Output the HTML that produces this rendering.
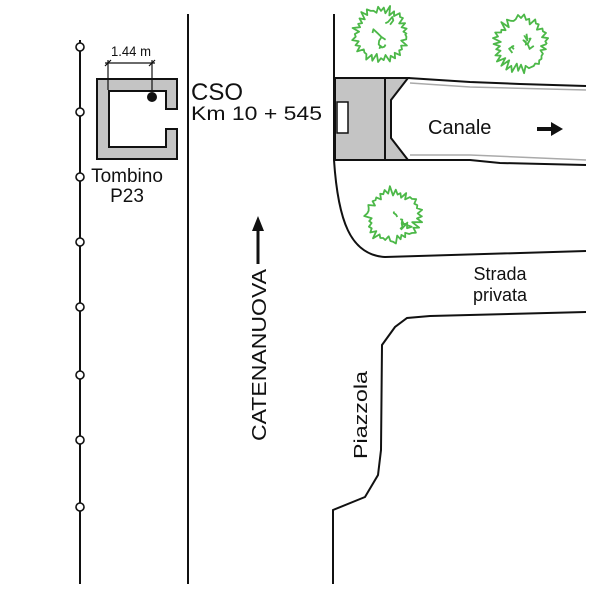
<!DOCTYPE html>
<html><head><style>body{margin:0;background:#fff}svg{display:block}text{font-family:"Liberation Sans",sans-serif;fill:#111}</style></head><body>
<svg id="s" width="600" height="600" viewBox="0 0 600 600">
<g stroke="#111" stroke-width="2" fill="none">
<line x1="80" y1="40" x2="80" y2="584"/>
<line x1="188" y1="14" x2="188" y2="584"/>
<path d="M334 14 L334 160 C338 220 350 255 385 257 L586 251"/>
<path d="M333 584 L333 510 L365 497 L378 475 L381 450 L382 345 L395 327 L407 318 L430 316 L586 312"/>
</g>
<g fill="#fff" stroke="#111" stroke-width="1.6">
<circle cx="80" cy="47" r="4"/><circle cx="80" cy="112" r="4"/><circle cx="80" cy="177" r="4"/><circle cx="80" cy="242" r="4"/><circle cx="80" cy="307" r="4"/><circle cx="80" cy="375" r="4"/><circle cx="80" cy="440" r="4"/><circle cx="80" cy="507" r="4"/>
</g>
<path d="M97 79 H177 V109 H166 V91 H109 V147 H166 V129 H177 V159 H97 Z" fill="#c4c4c4" stroke="#111" stroke-width="2"/>
<circle cx="152" cy="97" r="5" fill="#111"/>
<g stroke="#111" stroke-width="1.2">
<line x1="108" y1="60" x2="108" y2="90"/><line x1="152" y1="60" x2="152" y2="92"/>
<line x1="105" y1="63" x2="155" y2="63"/>
<line x1="105" y1="66" x2="111" y2="60"/><line x1="149" y1="66" x2="155" y2="60"/>
</g>
<text x="111" y="56" font-size="14" textLength="40" lengthAdjust="spacingAndGlyphs">1.44 m</text>
<text x="191" y="100" font-size="24">CSO</text>
<text x="191" y="120" font-size="19" textLength="131" lengthAdjust="spacingAndGlyphs">Km 10 + 545</text>
<text x="127" y="182" font-size="19" text-anchor="middle">Tombino</text>
<text x="127" y="202" font-size="19" text-anchor="middle">P23</text>
<rect x="335" y="78" width="50" height="82" fill="#c4c4c4" stroke="#111" stroke-width="2"/>
<rect x="337" y="102" width="11" height="31" fill="#fff" stroke="#111" stroke-width="1.5"/>
<path d="M385 78 L408 78 L391 100 L391 138 L408 160 L385 160 Z" fill="#c4c4c4" stroke="#111" stroke-width="2"/>
<path d="M408 78 L470 82 L520 84 L586 86" stroke="#111" stroke-width="2" fill="none"/>
<path d="M410 83 L470 87 L586 90" stroke="#aaa" stroke-width="1.5" fill="none"/>
<path d="M408 160 L470 160 L500 163 L586 165" stroke="#111" stroke-width="2" fill="none"/>
<path d="M410 155 L470 155 L586 160" stroke="#aaa" stroke-width="1.5" fill="none"/>
<text x="428" y="134" font-size="20">Canale</text>
<path d="M537 127 H551 V122 L563 129 L551 136 V131 H537 Z" fill="#111"/>
<text x="500" y="280" font-size="18" text-anchor="middle">Strada</text>
<text x="500" y="301" font-size="18" text-anchor="middle">privata</text>
<g id="trees" fill="none" stroke="#4cb848" stroke-width="1.8" stroke-linejoin="round"></g>
<text transform="translate(266 441) rotate(-90)" font-size="20" textLength="172" lengthAdjust="spacingAndGlyphs">CATENANUOVA</text>
<line x1="258" y1="264" x2="258" y2="228" stroke="#111" stroke-width="3"/>
<path d="M252 231 L258 216 L264 231 Z" fill="#111"/>
<text transform="translate(367 459) rotate(-90)" font-size="18" textLength="88" lengthAdjust="spacingAndGlyphs">Piazzola</text>
</svg>
<script>
(function(){
var g=document.getElementById('trees');var seed=7;function r(){seed=(seed*16807)%2147483647;return seed/2147483647;}
[[381,34],[521,44],[393,216]].forEach(function(c){
 var d='',n=60;for(var i=0;i<=n;i++){var a=i/n*6.2832;var rr=24+r()*6-(i%2?4:0);d+=(i?'L':'M')+(c[0]+rr*Math.cos(a)).toFixed(1)+' '+(c[1]+rr*Math.sin(a)).toFixed(1);}
 var p=document.createElementNS('http://www.w3.org/2000/svg','path');p.setAttribute('d',d);g.appendChild(p);
 for(var k=0;k<4;k++){var d2='',x=c[0]-12+r()*24,y=c[1]-12+r()*24;d2='M'+x+' '+y;for(var j=0;j<4;j++){x+=r()*10-5;y+=r()*10-5;d2+='L'+x.toFixed(1)+' '+y.toFixed(1);}
 var q=document.createElementNS('http://www.w3.org/2000/svg','path');q.setAttribute('d',d2);g.appendChild(q);}
});
})();
</script>
</body></html>
